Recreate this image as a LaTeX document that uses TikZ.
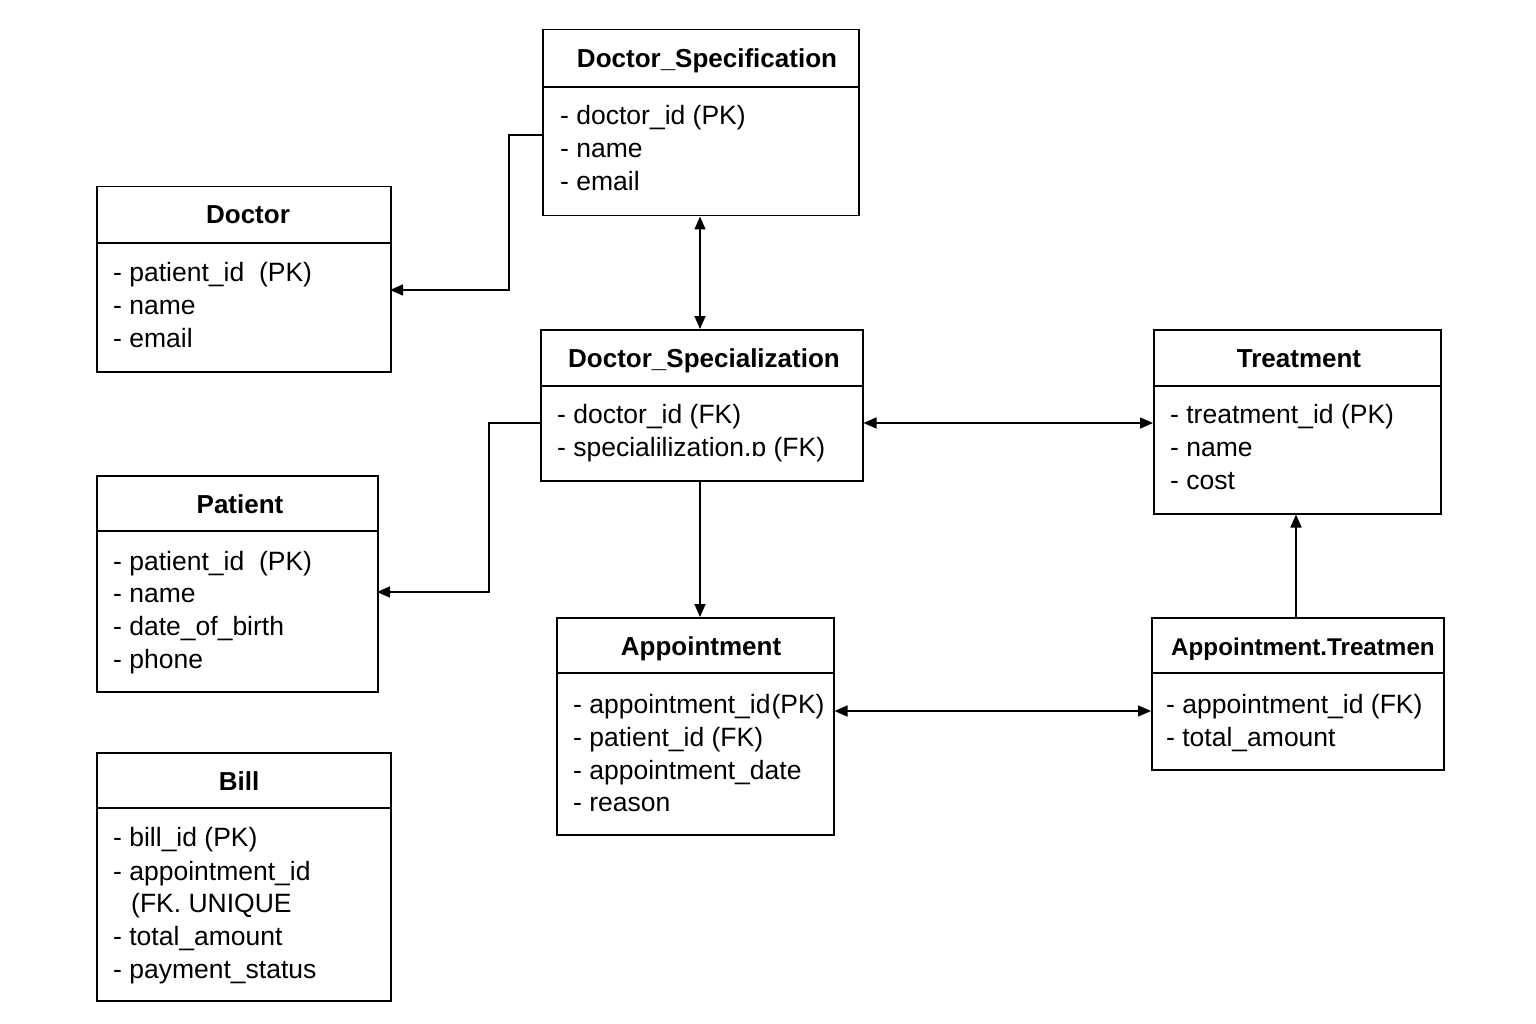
\documentclass[tikz,border=0pt]{standalone}
\usepackage{fontspec}
\setmainfont{Liberation Sans}
\usetikzlibrary{arrows.meta}
\tikzset{
  ent/.style={draw=black,line width=1.5pt,anchor=north west,inner sep=0pt},
  divl/.style={line width=1.5pt},
  ttl/.style={font=\fontsize{26}{30}\selectfont\bfseries,inner sep=0pt,anchor=base,yshift=-9pt},
  fld/.style={font=\fontsize{26.5}{30}\selectfont,inner sep=0pt,anchor=base west,yshift=-9pt},
  conn/.style={line width=1.5pt,-{Triangle[length=13pt,width=11pt]}},
  conn2/.style={line width=1.5pt,{Triangle[length=13pt,width=11pt]}-{Triangle[length=13pt,width=11pt]}},
}
\begin{document}
\begin{tikzpicture}[x=1pt,y=-1pt]
\useasboundingbox (0,0) rectangle (1536,1024);
% boxes
\node[ent,minimum width=316pt,minimum height=186pt] (ds) at (542,29) {};
\node[ent,minimum width=294pt,minimum height=185pt] (doc) at (96,186) {};
\node[ent,minimum width=322pt,minimum height=151pt] (dsz) at (540,329) {};
\node[ent,minimum width=287pt,minimum height=184pt] (tr) at (1153,329) {};
\node[ent,minimum width=281pt,minimum height=216pt] (pat) at (96,475) {};
\node[ent,minimum width=277pt,minimum height=217pt] (app) at (556,617) {};
\node[ent,minimum width=292pt,minimum height=152pt] (at) at (1151,617) {};
\node[ent,minimum width=294pt,minimum height=248pt] (bill) at (96,752) {};
% dividers
\draw[divl] (542,87) -- (858,87);
\draw[divl] (96,243) -- (390,243);
\draw[divl] (540,386) -- (862,386);
\draw[divl] (1153,386) -- (1440,386);
\draw[divl] (96,531) -- (377,531);
\draw[divl] (556,673) -- (833,673);
\draw[divl] (1151,673) -- (1443,673);
\draw[divl] (96,808) -- (390,808);
% titles
\node[ttl] (t1) at (707,59) {Doctor\_Specification};
\node[ttl] (t2) at (248,215) {Doctor};
\node[ttl] (t3) at (704,358) {Doctor\_Specialization};
\node[ttl] (t4) at (1299,358) {Treatment};
\node[ttl] (t5) at (240,504) {Patient};
\node[ttl] (t6) at (701,646) {Appointment};
\node[ttl,anchor=base west,font=\fontsize{24.2}{28}\selectfont\bfseries] (t7) at (1171,646) {Appointment.Treatmen};
\node[ttl] (t8) at (239,781) {Bill};
% fields
\node[fld] (f11) at (560,116) {- doctor\_id (PK)};
\node[fld] (f12) at (560,149) {- name};
\node[fld] (f13) at (560,182) {- email};
\node[fld] (f21) at (113,272) {- patient\_id\ \ (PK)};
\node[fld] (f22) at (113,305) {- name};
\node[fld] (f23) at (113,338) {- email};
\node[fld] (f31) at (557,414) {- doctor\_id (FK)};
\node[fld] (f32) at (557,447) {- specialilization.ɒ (FK)};
\node[fld] (f41) at (1170,414) {- treatment\_id (PK)};
\node[fld] (f42) at (1170,447) {- name};
\node[fld] (f43) at (1170,480) {- cost};
\node[fld] (f51) at (113,561) {- patient\_id\ \ (PK)};
\node[fld] (f52) at (113,593) {- name};
\node[fld] (f53) at (113,626) {- date\_of\_birth};
\node[fld] (f54) at (113,659) {- phone};
\node[fld] (f61) at (573,704) {- appointment\_id\hspace{1pt}(PK)};
\node[fld] (f62) at (573,737) {- patient\_id (FK)};
\node[fld] (f63) at (573,770) {- appointment\_date};
\node[fld] (f64) at (573,802) {- reason};
\node[fld] (f71) at (1166,704) {- appointment\_id (FK)};
\node[fld] (f72) at (1166,737) {- total\_amount};
\node[fld] (f81) at (113,837) {- bill\_id (PK)};
\node[fld] (f82) at (113,871) {- appointment\_id};
\node[fld] (f83) at (131,903) {(FK. UNIQUE};
\node[fld] (f84) at (113,936) {- total\_amount};
\node[fld] (f85) at (113,969) {- payment\_status};
% connectors
\coordinate (c1) at (542,135);
\coordinate (c1e) at (390,290);
\draw[conn] (c1) -- (509,135) -- (509,290) -- (c1e);
\draw[conn2] (ds.south -| 700,0) -- (dsz.north -| 700,0);
\coordinate (c3) at (540,423);
\coordinate (c3e) at (377,592);
\draw[conn] (c3) -- (489,423) -- (489,592) -- (c3e);
\draw[conn2] (dsz.east |- 0,423) -- (tr.west |- 0,423);
\draw[conn] (dsz.south -| 700,0) -- (app.north -| 700,0);
\draw[conn2] (app.east |- 0,711) -- (at.west |- 0,711);
\draw[conn] (at.north -| 1296,0) -- (tr.south -| 1296,0);
\end{tikzpicture}
\end{document}
